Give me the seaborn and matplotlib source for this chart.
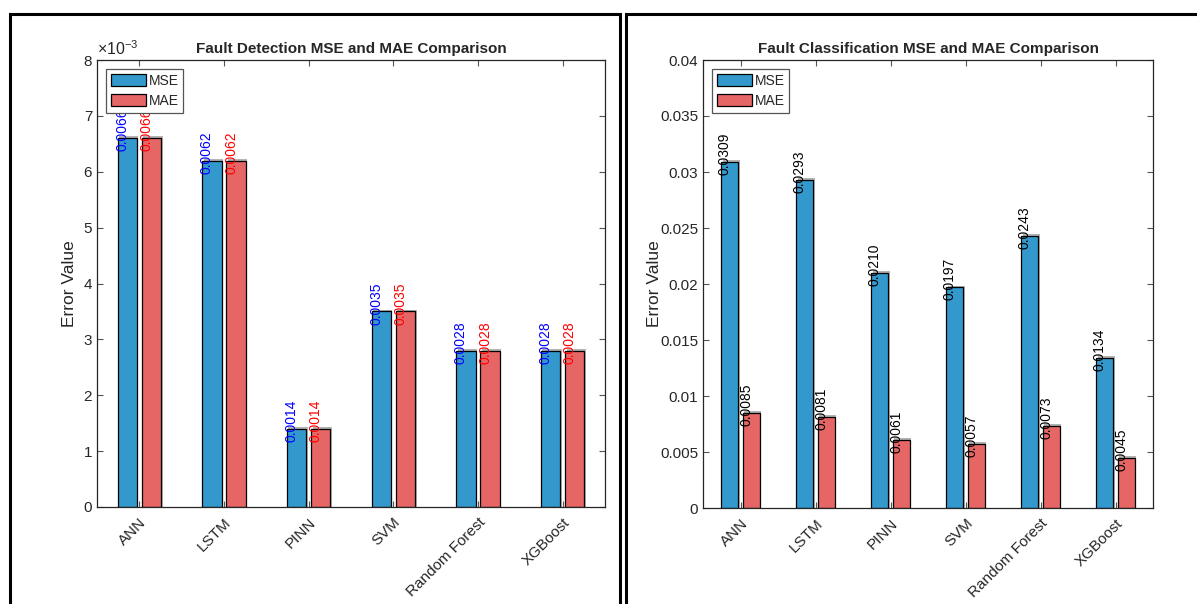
import numpy as np
import pandas as pd
import matplotlib
matplotlib.use("Agg")
import matplotlib.pyplot as plt
import matplotlib.patches as mpatches
from matplotlib.ticker import FuncFormatter, MultipleLocator
import seaborn as sns

models = ["ANN", "LSTM", "PINN", "SVM", "Random Forest", "XGBoost"]
det_mse = [0.0066, 0.0062, 0.0014, 0.0035, 0.0028, 0.0028]
det_mae = [0.0066, 0.0062, 0.0014, 0.0035, 0.0028, 0.0028]
cls_mse = [0.0309, 0.0293, 0.0210, 0.0197, 0.0243, 0.0134]
cls_mae = [0.0085, 0.0081, 0.0061, 0.0057, 0.0073, 0.0045]

BLUE = "#3399cc"
RED = "#e66666"

sns.set_theme(style="white")
plt.rcParams["font.family"] = ["Liberation Sans", "DejaVu Sans"]
plt.rcParams["mathtext.fontset"] = "custom"
plt.rcParams["mathtext.rm"] = "Liberation Sans"
plt.rcParams["mathtext.it"] = "Liberation Sans:italic"

fig = plt.figure(figsize=(11.97, 6.04), dpi=100)
W, H = 1197, 604

# panel frames
fig.add_artist(mpatches.Rectangle((10 / W, -0.05), 610 / W, 1.05 - 14 / H,
                                  transform=fig.transFigure, fill=False,
                                  edgecolor="black", linewidth=2.2))
fig.add_artist(mpatches.Rectangle((626 / W, -0.05), 0.6, 1.05 - 14 / H,
                                  transform=fig.transFigure, fill=False,
                                  edgecolor="black", linewidth=2.2))

ax1 = fig.add_axes([97 / W, 1 - 507 / H, (605 - 97) / W, (507 - 60) / H])
ax2 = fig.add_axes([703 / W, 1 - 508 / H, (1153 - 703) / W, (508 - 60) / H])


def panel(ax, mse, mae, title, ymax, ystep, label_colors, fmt):
    df = pd.DataFrame({
        "Model": models * 2,
        "Metric": ["MSE"] * len(models) + ["MAE"] * len(models),
        "Value": list(mse) + list(mae),
    })
    sns.barplot(data=df, x="Model", y="Value", hue="Metric",
                palette={"MSE": BLUE, "MAE": RED}, width=0.572, gap=0.2,
                edgecolor="black", linewidth=0.9, saturation=1, ax=ax,
                errorbar=None, zorder=2)
    # soft grey shadow behind every bar
    for cont in ax.containers:
        for p in cont.patches:
            x0, w, h = p.get_x(), p.get_width(), p.get_height()
            sh = mpatches.Rectangle((x0 + 0.018, 0), w, h + ymax * 0.004,
                                    facecolor="#a0a0a0", edgecolor="none",
                                    zorder=1.5, alpha=0.8)
            ax.add_patch(sh)
    # value labels
    for cont, col, vals in zip(ax.containers, label_colors, (mse, mae)):
        for p, v in zip(cont.patches, vals):
            xc = p.get_x() + p.get_width() / 2
            ax.annotate(fmt(v), xy=(xc, v), xytext=(-5, 8),
                        textcoords="offset pixels", rotation=90,
                        ha="center", va="center", color=col, fontsize=10,
                        zorder=3)
    ax.set_xlim(-0.5, len(models) - 0.5)
    ax.set_ylim(0, ymax)
    ax.yaxis.set_major_locator(MultipleLocator(ystep))
    ax.set_title(title, fontsize=11, fontweight="bold", pad=5)
    ax.set_xlabel("")
    ax.set_ylabel("Error Value", fontsize=12.5, color="#262626")
    ax.set_xticks(range(len(models)))
    ax.set_xticklabels(models, rotation=45, ha="right", rotation_mode="anchor",
                       fontsize=11, color="#262626")
    ax.tick_params(axis="both", direction="in", length=4, width=0.8,
                   top=True, right=True, bottom=True, left=True,
                   color="#555555", labelsize=11, labelcolor="#262626")
    ax.tick_params(axis="x", pad=6)
    for s in ax.spines.values():
        s.set_color("#262626")
        s.set_linewidth(0.9)
    leg = ax.legend(loc="upper left", fontsize=10,
                    frameon=True, fancybox=False, edgecolor="#555555",
                    framealpha=1, handlelength=2.5, handleheight=0.95,
                    handletextpad=0.2, borderpad=0.35, labelspacing=0.45,
                    borderaxespad=0.65)
    leg.set_zorder(10)
    leg.get_frame().set_linewidth(0.9)
    for hdl in leg.legend_handles:
        hdl.set_edgecolor("black")
        hdl.set_linewidth(0.9)
    return ax


panel(ax1, det_mse, det_mae, "Fault Detection MSE and MAE Comparison",
      0.008, 0.001, ("blue", "red"), lambda v: f"{v:.4f}")
ax1.yaxis.set_major_formatter(FuncFormatter(lambda v, p: f"{v * 1000:g}"))
ax1.text(0.0, 1.004, r"$\times10^{-3}$", transform=ax1.transAxes,
         fontsize=11.5, color="#262626", ha="left", va="bottom")

panel(ax2, cls_mse, cls_mae, "Fault Classification MSE and MAE Comparison",
      0.04, 0.005, ("black", "black"), lambda v: f"{v:.4f}")
ax2.yaxis.set_major_formatter(FuncFormatter(lambda v, p: f"{v:g}"))

ax1.yaxis.set_label_coords(-0.039, 0.5)
ax2.yaxis.set_label_coords(-0.091, 0.5)

fig.savefig("out.png", dpi=100)
